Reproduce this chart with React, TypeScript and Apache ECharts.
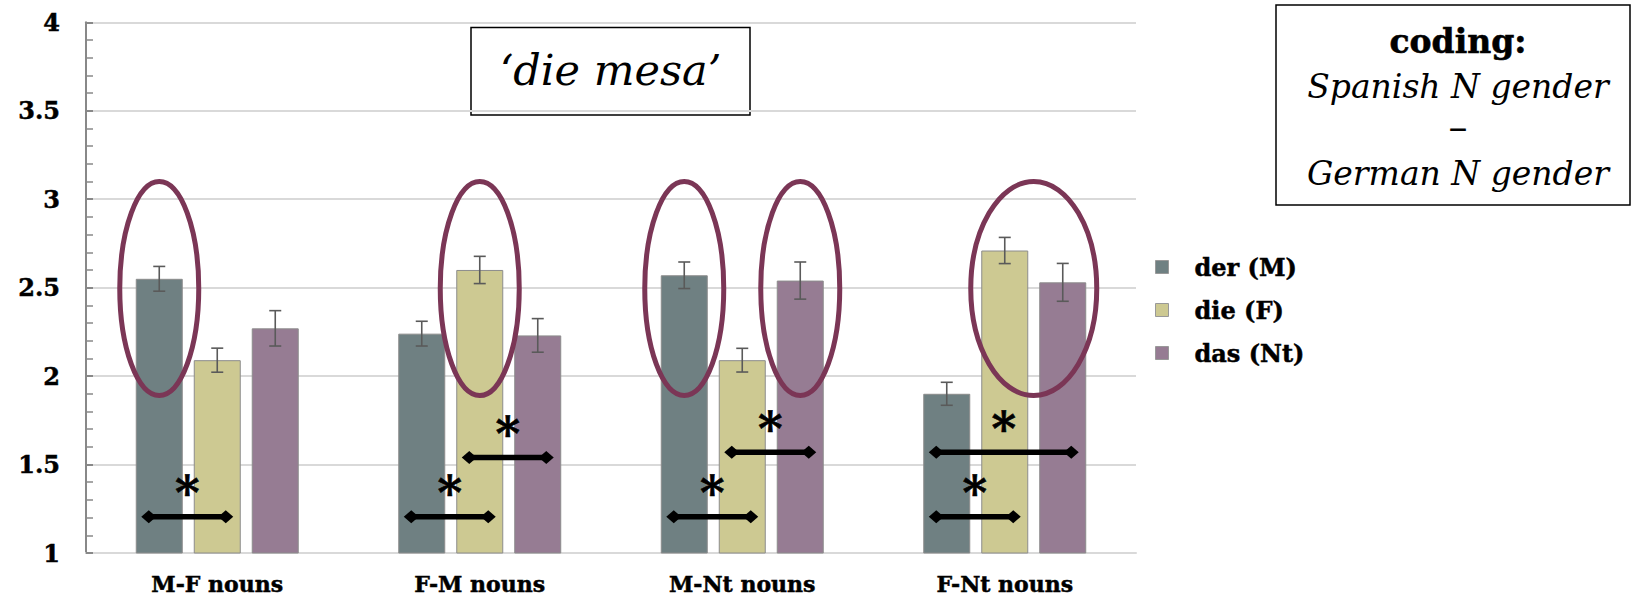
import React, { useEffect, useRef } from "react";
import * as echarts from "echarts";

// Categories and article series
const categories = ["M-F nouns", "F-M nouns", "M-Nt nouns", "F-Nt nouns"];
const seriesNames = ["der (M)", "die (F)", "das (Nt)"];
const derValues = [2.55, 2.24, 2.57, 1.9];
const dieValues = [2.09, 2.6, 2.09, 2.71];
const dasValues = [2.27, 2.23, 2.54, 2.53];
// Standard-error half widths
const derErr = [0.07, 0.07, 0.075, 0.065];
const dieErr = [0.068, 0.077, 0.067, 0.074];
const dasErr = [0.1, 0.095, 0.105, 0.107];

// Highlighted bars: [category, bar slot (-1 der, 0 die, 1 das), low, high, wide]
const circled = [
  [0, -1, 1.89, 3.1, 0],
  [1, 0, 1.89, 3.1, 0],
  [2, -1, 1.89, 3.1, 0],
  [2, 1, 1.89, 3.1, 0],
  [3, 0.5, 1.89, 3.1, 1],
];

// Significant contrasts: [category, from slot, to slot, level]
const contrasts = [
  [0, -1, 0, 1.205],
  [1, -1, 0, 1.205],
  [1, 0, 1, 1.54],
  [2, -1, 0, 1.205],
  [2, 0, 1, 1.57],
  [3, -1, 0, 1.205],
  [3, -1, 1, 1.57],
];

const colors = ["#6f8082", "#cdc992", "#967c93"];
const FONT = "DejaVu Serif";
const BAR_W = 47;
const SLOT = 58; // bar width + gap

export default function App() {
  const ref = useRef<HTMLDivElement>(null);

  useEffect(() => {
    if (!ref.current) return;
    const chart = echarts.init(ref.current, null, { renderer: "svg" });

    const valueSets = [derValues, dieValues, dasValues];
    const errSets = [derErr, dieErr, dasErr];
    const errData: number[][] = [];
    valueSets.forEach((vals, s) => {
      vals.forEach((v, c) => {
        errData.push([c, s - 1, v - errSets[s][c], v + errSets[s][c]]);
      });
    });

    const bars = seriesNames.map((name, i) => ({
      name,
      type: "bar",
      data: valueSets[i],
      barWidth: BAR_W,
      barGap: "23.4%",
      itemStyle: { color: colors[i], borderColor: "#8c8c8c", borderWidth: 1 },
      z: 2,
    }));

    const errorSeries = {
      type: "custom",
      name: "err",
      data: errData,
      encode: { x: 0, y: [2, 3] },
      z: 5,
      silent: true,
      renderItem: (_p: any, api: any) => {
        const c = api.value(0);
        const slot = api.value(1);
        const lo = api.coord([c, api.value(2)]);
        const hi = api.coord([c, api.value(3)]);
        const x = lo[0] + slot * SLOT;
        const cap = 6;
        const st = { stroke: "#5a5a5a", lineWidth: 1.6 };
        return {
          type: "group",
          children: [
            { type: "line", shape: { x1: x, y1: lo[1], x2: x, y2: hi[1] }, style: st },
            { type: "line", shape: { x1: x - cap, y1: lo[1], x2: x + cap, y2: lo[1] }, style: st },
            { type: "line", shape: { x1: x - cap, y1: hi[1], x2: x + cap, y2: hi[1] }, style: st },
          ],
        };
      },
    };

    const ellipseSeries = {
      type: "custom",
      name: "circled",
      data: circled,
      encode: { x: 0, y: [2, 3] },
      z: 6,
      silent: true,
      renderItem: (_p: any, api: any) => {
        const c = api.value(0);
        const slot = api.value(1);
        const lo = api.coord([c, api.value(2)]);
        const hi = api.coord([c, api.value(3)]);
        const rx = api.value(4) ? 63 : 39.5;
        return {
          type: "ellipse",
          shape: {
            cx: lo[0] + slot * SLOT,
            cy: (lo[1] + hi[1]) / 2,
            rx,
            ry: (lo[1] - hi[1]) / 2,
          },
          style: { fill: "none", stroke: "#7b3656", lineWidth: 5 },
        };
      },
    };

    const contrastSeries = {
      type: "custom",
      name: "contrast",
      data: contrasts,
      encode: { x: 0, y: 3 },
      z: 7,
      silent: true,
      renderItem: (_p: any, api: any) => {
        const c = api.value(0);
        const p = api.coord([c, api.value(3)]);
        const x0 = p[0] + api.value(1) * SLOT - 18;
        const x1 = p[0] + api.value(2) * SLOT + 16;
        const y = p[1];
        const hl = 15;
        const hh = 6.5;
        return {
          type: "group",
          children: [
            {
              type: "line",
              shape: { x1: x0 + 6, y1: y, x2: x1 - 6, y2: y },
              style: { stroke: "#000", lineWidth: 5.5 },
            },
            {
              type: "polygon",
              shape: { points: [[x0, y], [x0 + hl / 2, y - hh], [x0 + hl, y], [x0 + hl / 2, y + hh]] },
              style: { fill: "#000" },
            },
            {
              type: "polygon",
              shape: { points: [[x1, y], [x1 - hl / 2, y - hh], [x1 - hl, y], [x1 - hl / 2, y + hh]] },
              style: { fill: "#000" },
            },
            {
              type: "text",
              style: {
                text: "*",
                x: (x0 + x1) / 2,
                y: y - 24,
                align: "center",
                verticalAlign: "middle",
                fontFamily: FONT,
                fontWeight: "bold",
                fontSize: 47,
                fill: "#000",
                stroke: "#000",
                lineWidth: 0.6,
              },
            },
          ],
        };
      },
    };

    const boldText = { textBorderColor: "#000", textBorderWidth: 0.5 };

    chart.setOption({
      animation: false,
      backgroundColor: "#ffffff",
      grid: { left: 86, right: 507, top: 22.3, bottom: 45, containLabel: false },
      legend: {
        data: seriesNames,
        orient: "vertical",
        left: 1150,
        top: 249,
        itemWidth: 13,
        itemHeight: 13,
        itemGap: 17,
        icon: "rect",
        itemStyle: { borderColor: "#999", borderWidth: 1 },
        textStyle: {
          fontFamily: FONT,
          fontWeight: "bold",
          fontSize: 24,
          color: "#000",
          lineHeight: 26,
          padding: [0, 0, 0, 21],
          ...boldText,
        },
      },
      xAxis: {
        type: "category",
        data: categories,
        axisLine: { show: true, lineStyle: { color: "#d9d9d9", width: 2 } },
        axisTick: { show: false },
        axisLabel: {
          fontFamily: FONT,
          fontWeight: "bold",
          fontSize: 22,
          color: "#000",
          margin: 20,
          ...boldText,
        },
      },
      yAxis: {
        type: "value",
        min: 1,
        max: 4,
        interval: 0.5,
        axisLine: { show: true, lineStyle: { color: "#888", width: 2 } },
        axisTick: { show: true, inside: true, length: 7, lineStyle: { color: "#888", width: 2 } },
        minorTick: { show: true, splitNumber: 5, length: 7, lineStyle: { color: "#888", width: 1.5 } },
        splitLine: { show: true, lineStyle: { color: "#d9d9d9", width: 2 } },
        axisLabel: {
          fontFamily: FONT,
          fontWeight: "bold",
          fontSize: 24,
          color: "#000",
          margin: 26,
          ...boldText,
        },
      },
      graphic: [
        {
          type: "group",
          children: [
            {
              type: "rect",
              shape: { x: 471, y: 27.5, width: 279, height: 87.5 },
              style: { fill: "none", stroke: "#000", lineWidth: 1.5 },
            },
            {
              type: "text",
              style: {
                text: "\u2018die mesa\u2019",
                x: 610.5,
                y: 70,
                align: "center",
                verticalAlign: "middle",
                fontFamily: FONT,
                fontStyle: "italic",
                fontSize: 43,
                fill: "#000",
              },
            },
          ],
        },
        {
          type: "group",
          children: [
            {
              type: "rect",
              shape: { x: 1276, y: 5, width: 354, height: 200 },
              style: { fill: "#fff", stroke: "#000", lineWidth: 1.5 },
            },
            {
              type: "text",
              style: {
                text: "coding:",
                x: 1458,
                y: 41,
                align: "center",
                verticalAlign: "middle",
                fontFamily: FONT,
                fontWeight: "bold",
                fontSize: 33,
                fill: "#000",
                stroke: "#000",
                lineWidth: 0.6,
              },
            },
            {
              type: "text",
              style: {
                text: "Spanish N gender",
                x: 1458,
                y: 86,
                align: "center",
                verticalAlign: "middle",
                fontFamily: FONT,
                fontStyle: "italic",
                fontSize: 33,
                fill: "#000",
              },
            },
            {
              type: "text",
              style: {
                text: "\u2013",
                x: 1458,
                y: 127,
                align: "center",
                verticalAlign: "middle",
                fontFamily: FONT,
                fontSize: 38,
                fill: "#000",
              },
            },
            {
              type: "text",
              style: {
                text: "German N gender",
                x: 1458,
                y: 173,
                align: "center",
                verticalAlign: "middle",
                fontFamily: FONT,
                fontStyle: "italic",
                fontSize: 33,
                fill: "#000",
              },
            },
          ],
        },
      ],
      series: [...bars, errorSeries, ellipseSeries, contrastSeries],
    });

    return () => chart.dispose();
  }, []);

  return (
    <div
      ref={ref}
      style={{ position: "fixed", left: 0, top: 0, width: 1643, height: 598 }}
    />
  );
}
